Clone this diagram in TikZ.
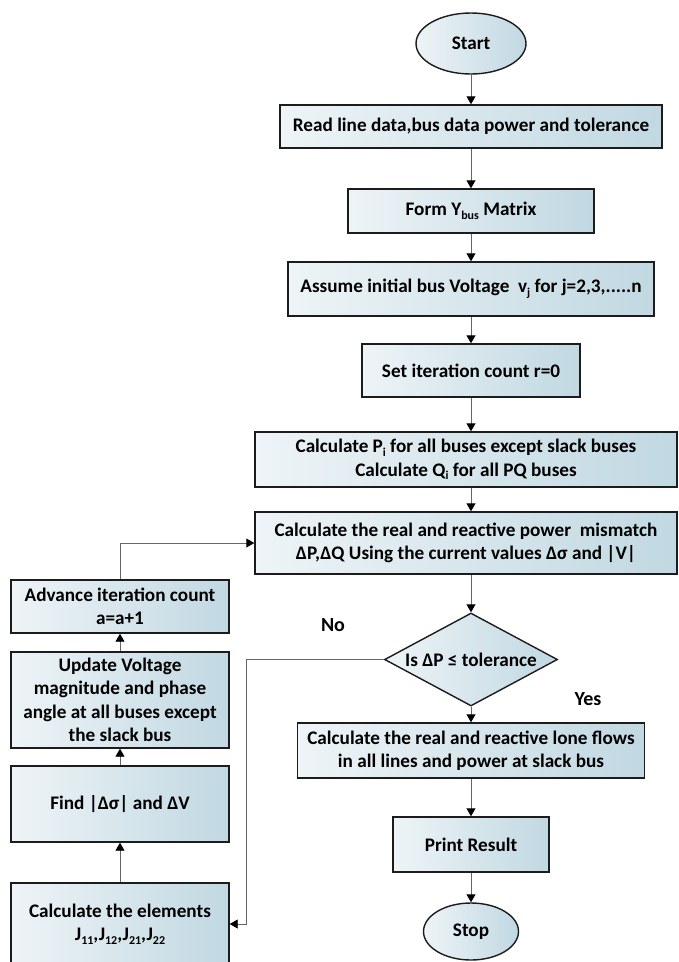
\documentclass[tikz,border=0pt]{standalone}
\usepackage{fontspec}
\setmainfont{Carlito}
\usetikzlibrary{shapes.geometric,arrows.meta}
\definecolor{boxL}{HTML}{EEF4F7}
\definecolor{boxR}{HTML}{C1D8E2}
\definecolor{edge}{HTML}{1C1C1C}
\definecolor{conn}{HTML}{666666}
\newcommand{\subx}[1]{\raisebox{-0.4ex}{\fontsize{12}{12}\selectfont #1}}
\tikzset{
  base/.style={draw=edge, line width=1.4pt, left color=boxL, right color=boxR,
    inner sep=0pt, align=center, font=\fontsize{19.2}{23.5}\selectfont\bfseries},
  stepbox/.style={base, rectangle},
  term/.style={base, ellipse},
  decide/.style={base, diamond, aspect=1.86},
  arr/.style={draw=conn, line width=0.9pt, -{Triangle[width=9pt,length=8pt,color=black]}},
  lbl/.style={font=\fontsize{20}{22}\selectfont\bfseries, inner sep=0pt}
}
\begin{document}
\begin{tikzpicture}[x=1pt,y=-1pt]
\useasboundingbox (0,0) rectangle (678,962);
\node[term, minimum width=110pt, minimum height=61pt] (start) at (471,43.5) {Start};
\node[stepbox, minimum width=382pt, minimum height=43pt] (read) at (471,126.5) {Read line data,bus data power and tolerance};
\node[stepbox, minimum width=246pt, minimum height=44pt] (form) at (471,211) {Form Y\subx{bus} Matrix};
\node[stepbox, minimum width=366pt, minimum height=54pt] (assume) at (471,289) {Assume initial bus Voltage\ \ v\subx{j} for j=2,3,.....n};
\node[stepbox, minimum width=218pt, minimum height=53pt] (set) at (471,370.5) {Set iteration count r=0};
\node[stepbox, minimum width=422pt, minimum height=55pt] (calcp) at (466,459.5) {Calculate P\subx{i} for all buses except slack buses\\Calculate Q\subx{i} for all PQ buses};
\node[stepbox, minimum width=422pt, minimum height=62pt] (mism) at (466,543) {Calculate the real and reactive power\ \ mismatch\\ΔP,ΔQ Using the current values Δσ and |V|};
\node[decide, minimum width=173pt, minimum height=93pt] (dec) at (471,659.5) {Is ΔP ≤ tolerance};
\node[stepbox, minimum width=347pt, minimum height=55pt] (flows) at (471,750.5) {Calculate the real and reactive lone flows\\in all lines and power at slack bus};
\node[stepbox, minimum width=156pt, minimum height=55pt] (print) at (471,844.5) {Print Result};
\node[term, minimum width=95pt, minimum height=57pt] (stop) at (471,931.5) {Stop};
\node[stepbox, minimum width=218pt, minimum height=53pt] (adv) at (120,606.5) {Advance iteration count\\a=a+1};
\node[stepbox, minimum width=218pt, minimum height=96pt] (upd) at (120,700) {Update Voltage\\magnitude and phase\\angle at all buses except\\the slack bus};
\node[stepbox, minimum width=218pt, minimum height=76pt] (find) at (120,804) {Find |Δσ| and ΔV};
\node[stepbox, minimum width=218pt, minimum height=82pt] (elem) at (120,924) {Calculate the elements\\J\subx{11},J\subx{12},J\subx{21},J\subx{22}};
\node[lbl] (no) at (333,625) {No};
\node[lbl] (yes) at (588,699) {Yes};
\coordinate (nc) at (246,659.5);
\draw[arr] (start) -- (read);
\draw[arr] (read) -- (form);
\draw[arr] (form) -- (assume);
\draw[arr] (assume) -- (set);
\draw[arr] (set.south) -- (set.south |- calcp.north);
\draw[arr] (set.south |- calcp.south) -- (set.south |- mism.north);
\draw[arr] (set.south |- mism.south) -- (dec.north);
\draw[arr] (dec.south) -- (flows.north);
\draw[arr] (flows) -- (print);
\draw[arr] (print) -- (stop);
\draw[arr] (adv.north) |- (mism.west);
\draw[arr] (upd) -- (adv);
\draw[arr] (find) -- (upd);
\draw[arr] (elem.north) -- (find.south);
\draw[arr] (dec.west) -- (nc) |- (elem.east);
\end{tikzpicture}
\end{document}
